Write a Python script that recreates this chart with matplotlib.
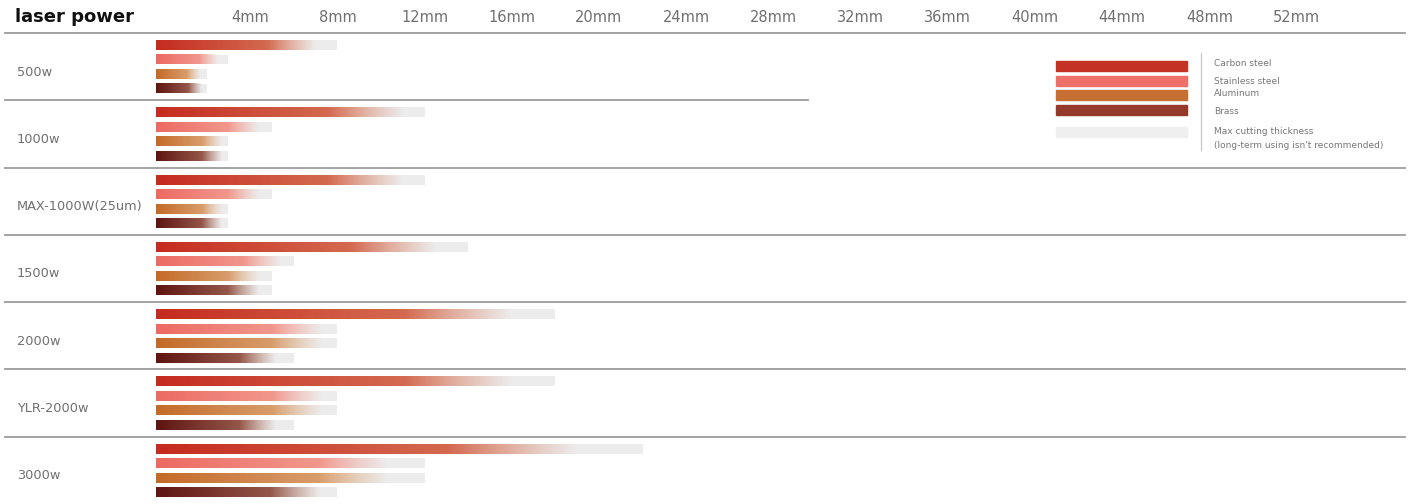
import numpy as np
import matplotlib.pyplot as plt
from matplotlib.colors import to_rgb
from matplotlib.patches import Rectangle
from matplotlib.transforms import blended_transform_factory

# ---- data (mm) ----
powers = ['500w', '1000w', 'MAX-1000W(25um)', '1500w', '2000w', 'YLR-2000w', '3000w']
materials = ['Carbon steel', 'Stainless steel', 'Aluminum', 'Brass']

# max cutting thickness (end of the grey bar)
carbon_max = [8, 12, 12, 14, 18, 18, 22]
stainless_max = [3, 5, 5, 6, 8, 8, 12]
aluminum_max = [2, 3, 3, 5, 8, 8, 12]
brass_max = [2, 3, 3, 5, 6, 6, 8]

# where the coloured part fades out
carbon_good = [7, 11, 11, 12.5, 16, 16, 19]
stainless_good = [2.5, 4.4, 4.4, 5.4, 7.3, 7.3, 10.3]
aluminum_good = [1.7, 2.7, 2.7, 4.4, 7.3, 7.3, 10.3]
brass_good = [1.8, 2.7, 2.7, 4.4, 5.2, 5.2, 7.2]

tick_values = list(range(4, 53, 4))
tick_labels = [f'{t}mm' for t in tick_values]

max_vals = [carbon_max, stainless_max, aluminum_max, brass_max]
good_vals = [carbon_good, stainless_good, aluminum_good, brass_good]

# gradient start / end colours per material, and solid legend colours
grad_start = ['#c52b1e', '#ec6a62', '#c46a28', '#5e1410']
grad_end = ['#da8566', '#f3aa9e', '#e0b288', '#ab7462']
legend_colors = ['#c33224', '#ee7169', '#c66f33', '#953a2b']
grey = '#ececec'

label_font = ['Liberation Sans Narrow', 'DejaVu Sans']

W, H = 1423, 504
fig = plt.figure(figsize=(W / 100, H / 100), dpi=100)
fig.patch.set_facecolor('white')

# main axes: one unit per power group, top of axes is the header rule
top_px = 33
ax = fig.add_axes([0, 0, 1, 1 - top_px / H])

px0, px_per_mm = 163, 21.8
bar_left = -0.3
bar_h = 0.148
bar_off = [0.178, 0.394, 0.61, 0.825]


def gradient(c0, c1, n=256):
    t = np.linspace(0, 1, n)
    a, b = np.array(to_rgb(c0)), np.array(to_rgb(c1))
    rgb = a[None, :] + (b - a)[None, :] * t[:, None]
    alpha = np.clip((1 - t) / 0.3, 0, 1)
    return np.column_stack([rgb, alpha]).reshape(1, n, 4)


for m in range(len(materials)):
    img = gradient(grad_start[m], grad_end[m])
    for i in range(len(powers)):
        y = i + bar_off[m]
        mx = max_vals[m][i]
        gd = good_vals[m][i]
        ax.barh(y, mx - bar_left, left=bar_left, height=bar_h, color=grey, zorder=2)
        ax.imshow(img, extent=[bar_left, gd, y + bar_h / 2, y - bar_h / 2],
                  aspect='auto', interpolation='bilinear', zorder=3)

# group separators
for i in range(len(powers)):
    right = 808 if i == 1 else 1405
    ax.axhline(i, xmin=5 / W, xmax=right / W, color='#9c9c9c', lw=1.3, clip_on=False, zorder=4)

ax.set_xlim(-px0 / px_per_mm, (W - px0) / px_per_mm)
ax.set_ylim(len(powers), 0)

ax.xaxis.tick_top()
ax.set_xticks(tick_values, tick_labels)
ax.tick_params(axis='x', length=0, pad=6, labelsize=10.5, labelcolor='#707070')
for lab in ax.get_xticklabels():
    lab.set_family(label_font)
ax.set_yticks([])
for s in ax.spines.values():
    s.set_visible(False)

trans = blended_transform_factory(ax.transAxes, ax.transData)
for i, p in enumerate(powers):
    ax.text(17 / W, i + 0.58, p, transform=trans, va='center', ha='left',
            fontsize=9.3, color='#707070', family=label_font)

fig.text(15 / W, 1 - 17 / H, 'laser power', fontsize=13, fontweight='bold',
         va='center', ha='left', color='#111111')

# ---- legend ----
leg = fig.add_axes([1040 / W, 1 - 160 / H, (W - 1040) / W, 120 / H])
leg.set_xlim(1040, W)
leg.set_ylim(160, 40)
leg.axis('off')
leg_bar_y = [66, 80.7, 95, 110, 131.7]
for c, yc in zip(legend_colors + ['#efefef'], leg_bar_y):
    leg.add_patch(Rectangle((1056, yc - 5), 131, 10, color=c))
leg.plot([1201, 1201], [53, 150], color='#cccccc', lw=1)
leg_text = materials + ['Max cutting thickness', "(long-term using isn't recommended)"]
leg_text_y = [64, 82, 93, 111, 131, 146]
for t, yt in zip(leg_text, leg_text_y):
    leg.text(1214, yt, t, fontsize=6.5, color='#777777', va='center', ha='left')

fig.savefig('out.png', dpi=100)
